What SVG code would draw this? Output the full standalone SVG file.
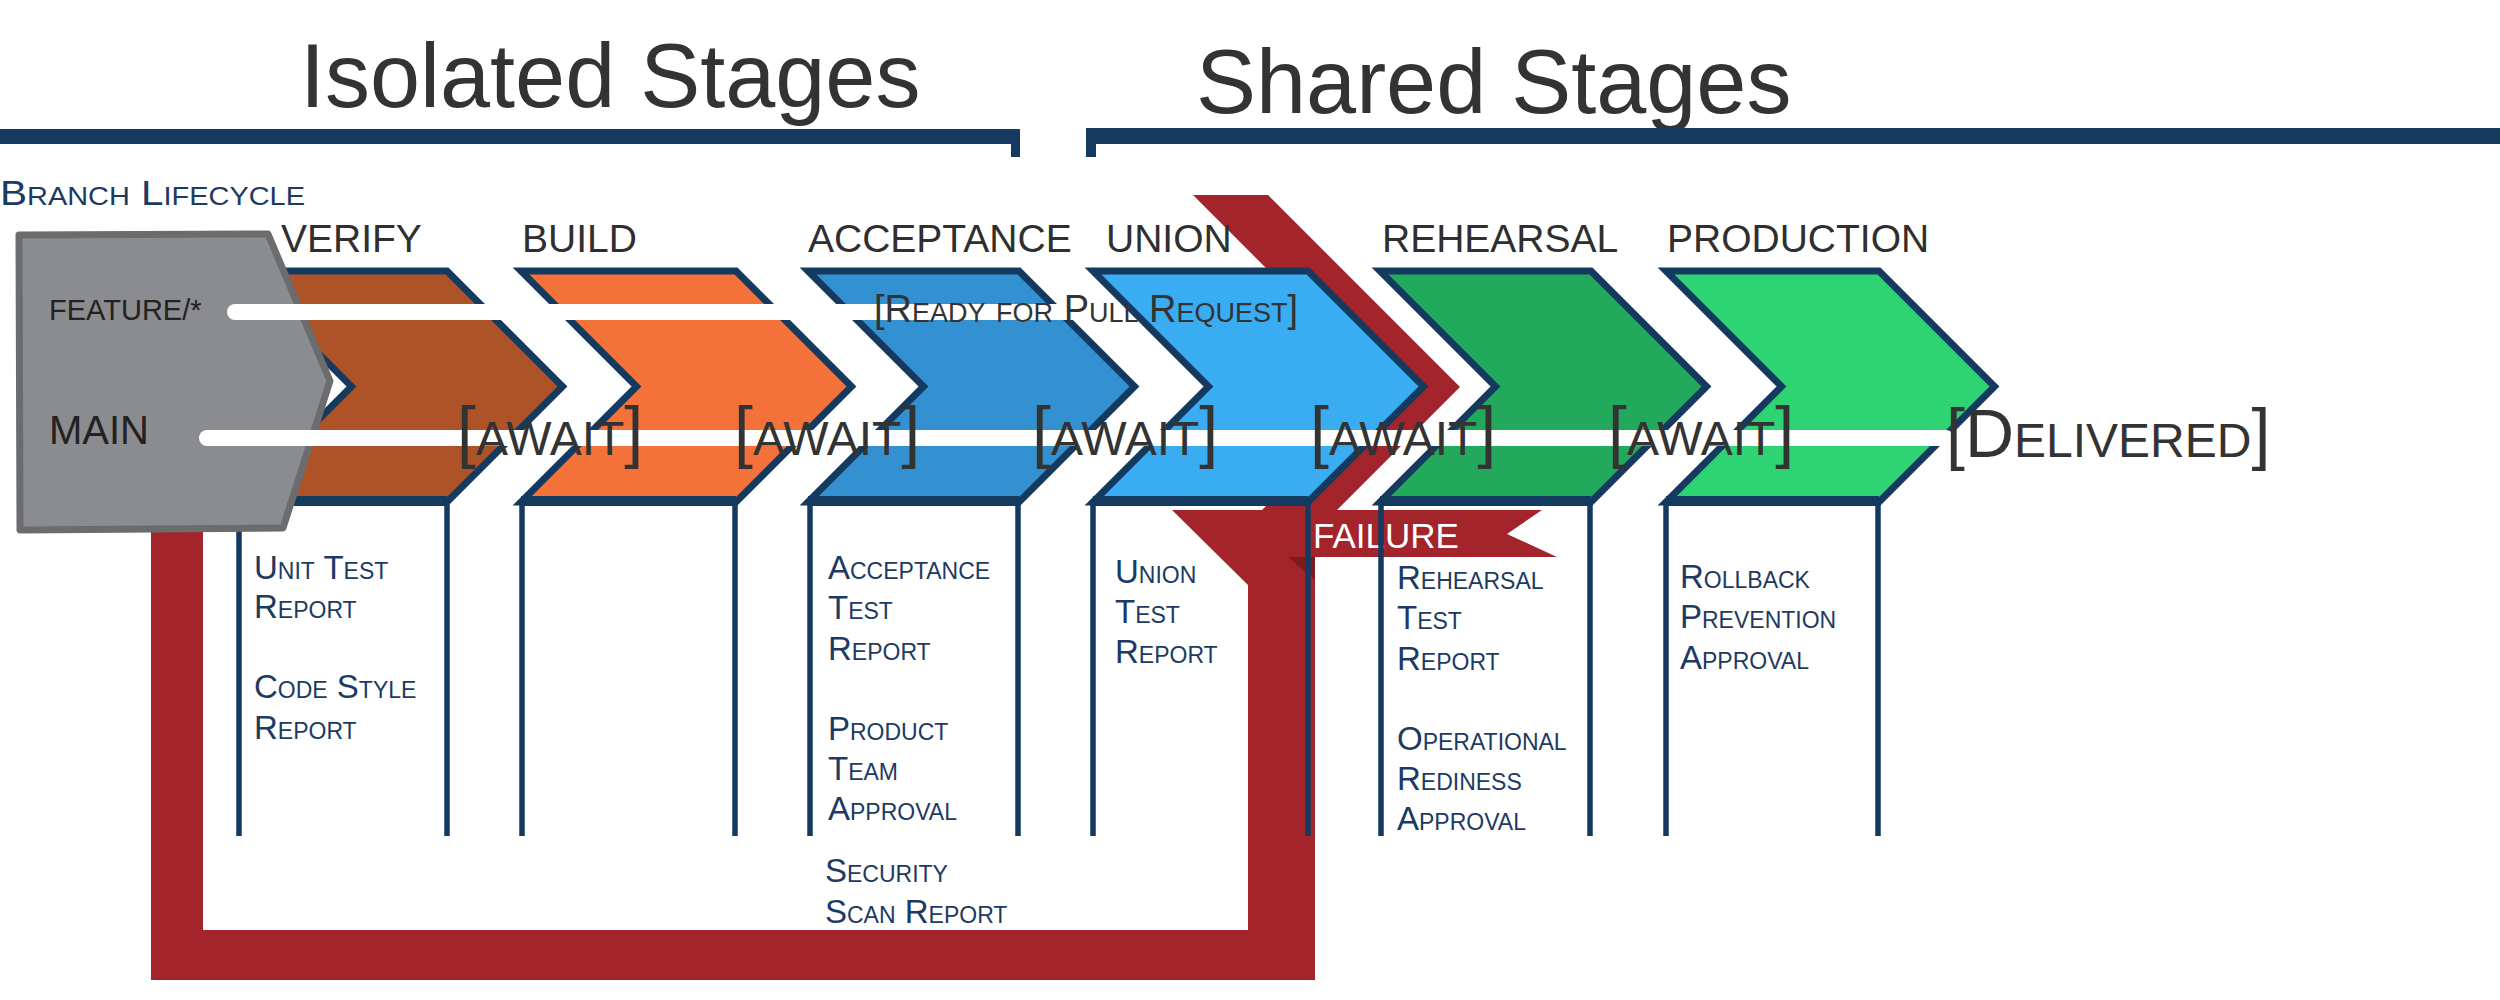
<svg xmlns="http://www.w3.org/2000/svg" width="2500" height="1000" viewBox="0 0 2500 1000">
<style>
.title{font-family:"Liberation Sans",Arial,sans-serif;font-size:90px;fill:#333}
.stage{font-family:"Liberation Sans",Arial,sans-serif;font-size:39px;fill:#2f2f2f}
.sc{font-family:"Liberation Sans",Arial,sans-serif;font-variant:small-caps;fill:#1c3a62;font-size:33px}
.gate{font-family:"Liberation Sans",Arial,sans-serif;font-variant:small-caps;fill:#333;font-size:68px}
.src{font-family:"Liberation Sans",Arial,sans-serif;fill:#222}
.chev{stroke:#153a60;stroke-width:7;stroke-linejoin:miter}
.base{stroke:#153a60;stroke-width:10}
.col{stroke:#153a60;stroke-width:5.5;fill:none}
.bar{fill:#163a5f}
.red{fill:#a3242a}
.branch{stroke:#fff;stroke-width:16;stroke-linecap:round;fill:none}
</style>
<rect width="2500" height="1000" fill="#fff"/>

<g id="header-isolated">
<text class="title" x="300" y="107">Isolated Stages</text>
<path class="bar" d="M0 129 H1020 V157 H1011 V144 H0 Z"/>
</g>
<g id="header-shared">
<text class="title" x="1196" y="113">Shared Stages</text>
<path class="bar" d="M1086 128 H2500 V144 H1096 V157 H1086 Z"/>
</g>
<text id="branch-lifecycle" class="sc" x="0" y="205" style="font-size:35px" textLength="305" lengthAdjust="spacingAndGlyphs">Branch Lifecycle</text>

<g id="failure">
<polygon class="red" points="1193,195 1268,195 1460,387 1335,512 1260,512 1385,387"/>
<path class="red" d="M1172 510 H1542 L1507 534 L1557 557 H1315 V980 H151 V525 H203 V930 H1248 V585 Z"/>
<polygon fill="#7d1a1f" points="1288,557 1315,557 1315,580"/>
<text class="src" x="1313" y="548" style="font-size:35px;fill:#fff">FAILURE</text>
</g>

<g id="stage-verify">
<polygon class="chev" fill="#ae5227" points="236,271 447,271 562.5,386.5 447,502 236,502 351.5,386.5"/>
<line class="base" x1="236" y1="501" x2="447" y2="501"/>
<path class="col" d="M239 502 V836 M447 502 V836"/>
<text class="stage" x="281" y="252">VERIFY</text>
<text class="sc" x="254" y="579">Unit Test</text>
<text class="sc" x="254" y="618">Report</text>
<text class="sc" x="254" y="698">Code Style</text>
<text class="sc" x="254" y="739">Report</text>
</g>

<g id="stage-build">
<polygon class="chev" fill="#f4713a" points="521,271 736,271 851.5,386.5 736,502 521,502 636.5,386.5"/>
<line class="base" x1="521" y1="501" x2="736" y2="501"/>
<path class="col" d="M522 502 V836 M735 502 V836"/>
<text class="stage" x="522" y="252">BUILD</text>
</g>

<g id="stage-acceptance">
<polygon class="chev" fill="#3391d1" points="808,271 1019,271 1134.5,386.5 1019,502 808,502 923.5,386.5"/>
<line class="base" x1="808" y1="501" x2="1019" y2="501"/>
<path class="col" d="M810 502 V836 M1018 502 V836"/>
<text class="stage" x="808" y="252">ACCEPTANCE</text>
<text class="sc" x="828" y="579">Acceptance</text>
<text class="sc" x="828" y="619">Test</text>
<text class="sc" x="828" y="660">Report</text>
<text class="sc" x="828" y="740">Product</text>
<text class="sc" x="828" y="780">Team</text>
<text class="sc" x="828" y="820">Approval</text>
<text class="sc" x="825" y="882">Security</text>
<text class="sc" x="825" y="923">Scan Report</text>
</g>

<g id="stage-union">
<polygon class="chev" fill="#3aacf2" points="1093,271 1308,271 1423.5,386.5 1308,502 1093,502 1208.5,386.5"/>
<line class="base" x1="1093" y1="501" x2="1308" y2="501"/>
<path class="col" d="M1093 502 V836 M1308 502 V836"/>
<text class="stage" x="1106" y="252">UNION</text>
<text class="sc" x="1115" y="583">Union</text>
<text class="sc" x="1115" y="623">Test</text>
<text class="sc" x="1115" y="663">Report</text>
</g>

<g id="stage-rehearsal">
<polygon class="chev" fill="#23a95b" points="1380,271 1591,271 1706.5,386.5 1591,502 1380,502 1495.5,386.5"/>
<line class="base" x1="1380" y1="501" x2="1591" y2="501"/>
<path class="col" d="M1381 502 V836 M1590 502 V836"/>
<text class="stage" x="1382" y="252">REHEARSAL</text>
<text class="sc" x="1397" y="589">Rehearsal</text>
<text class="sc" x="1397" y="629">Test</text>
<text class="sc" x="1397" y="670">Report</text>
<text class="sc" x="1397" y="750">Operational</text>
<text class="sc" x="1397" y="790">Rediness</text>
<text class="sc" x="1397" y="830">Approval</text>
</g>

<g id="stage-production">
<polygon class="chev" fill="#2ed374" points="1666,271 1879,271 1994.5,386.5 1879,502 1666,502 1781.5,386.5"/>
<line class="base" x1="1666" y1="501" x2="1879" y2="501"/>
<path class="col" d="M1666 502 V836 M1878 502 V836"/>
<text class="stage" x="1667" y="252">PRODUCTION</text>
<text class="sc" x="1680" y="588">Rollback</text>
<text class="sc" x="1680" y="628">Prevention</text>
<text class="sc" x="1680" y="669">Approval</text>
</g>

<g id="branch-source">
<polygon fill="#8b8c8f" stroke="#6b6c6e" stroke-width="7" stroke-linejoin="round" points="19,235 268,234 330,381 283,528 20,530"/>
<text class="src" x="49" y="320" style="font-size:29px">FEATURE/*</text>
<text class="src" x="49" y="444" style="font-size:40px">MAIN</text>
</g>

<g id="connectors">
<line class="branch" x1="235" y1="312" x2="1075" y2="312"/>
<line class="branch" x1="207" y1="438" x2="1946" y2="438"/>
</g>

<g id="gates">
<text class="gate" x="457" y="455">[await]</text>
<text class="gate" x="734" y="455">[await]</text>
<text class="gate" x="1032" y="455">[await]</text>
<text class="gate" x="1310" y="455">[await]</text>
<text class="gate" x="1608" y="455">[await]</text>
<text class="gate" x="1946" y="457">[Delivered]</text>
<text class="gate" x="874" y="322" style="font-size:38px">[Ready for Pull Request]</text>
</g>
</svg>
